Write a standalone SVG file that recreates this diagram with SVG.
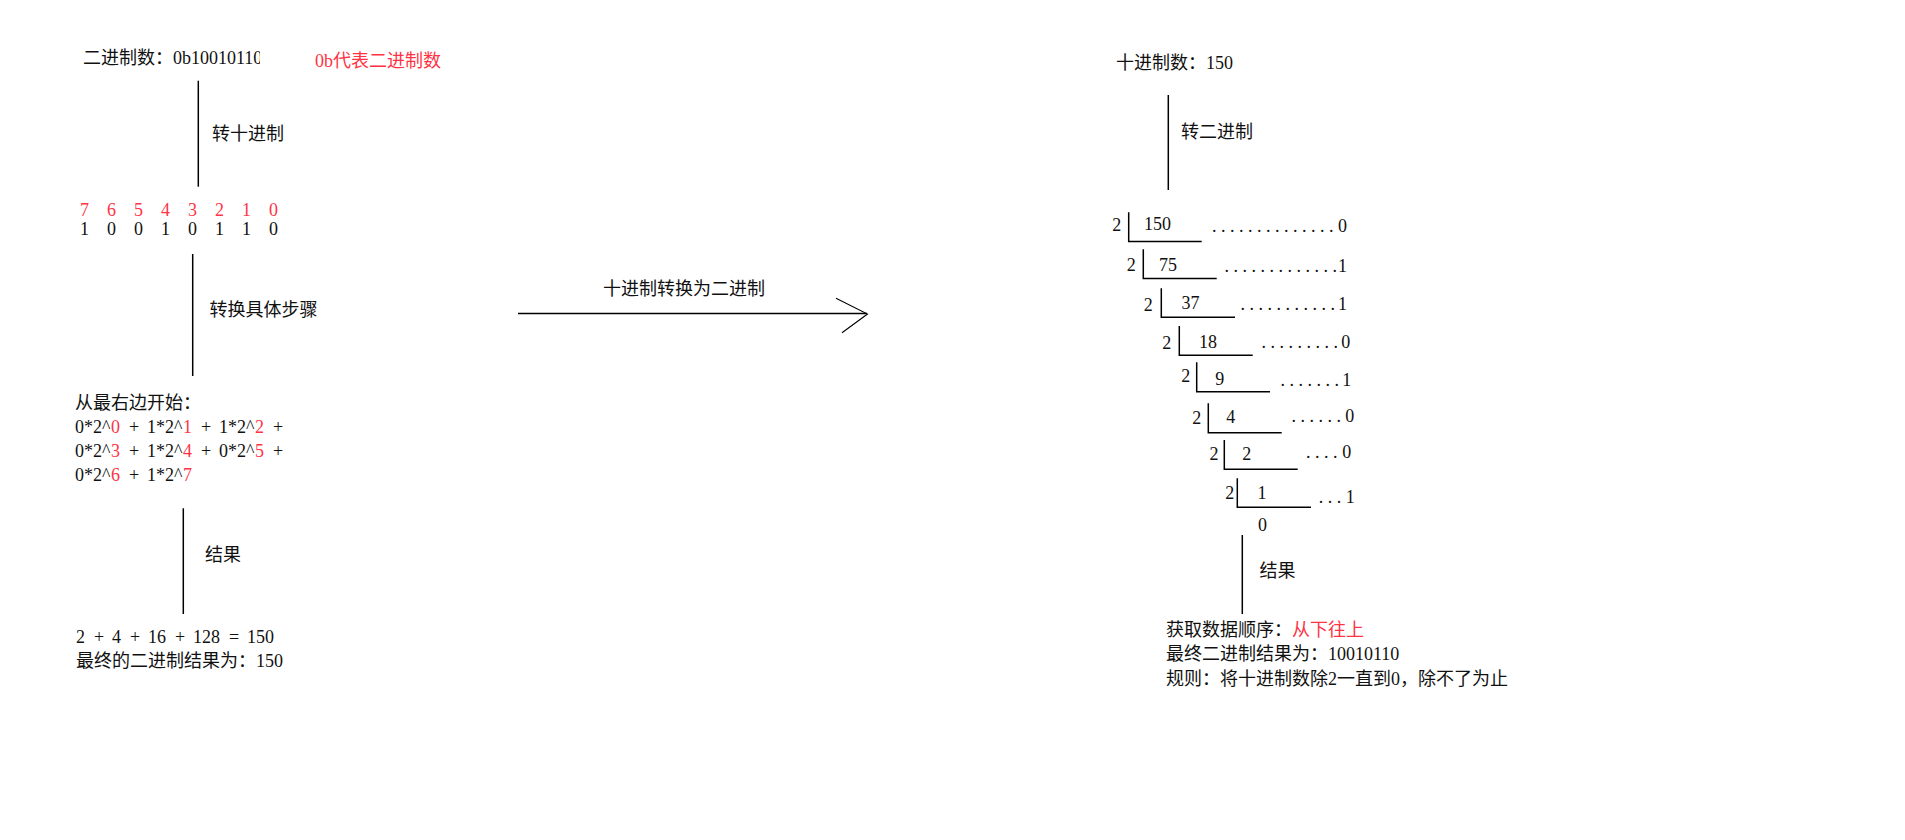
<svg xmlns="http://www.w3.org/2000/svg" width="1905" height="840" viewBox="0 0 1905 840">
<style>
.t{font-family:"Liberation Serif","Noto Sans CJK SC",serif;font-size:18px;fill:#111}
.r{fill:#ff3344}
.ln{stroke:#000;stroke-width:1.5;fill:none}
.hd{stroke:#000;stroke-width:1.1;fill:none}
.dots{letter-spacing:4.5px}
.pre{white-space:pre}
</style>
<defs>
<clipPath id="clipBin"><rect x="0" y="0" width="260" height="100"/></clipPath>
</defs>
<rect width="1905" height="840" fill="#fff"/>

<g id="connectors">
<line class="ln" x1="198.3" y1="80.7" x2="198.3" y2="186.7"/>
<line class="ln" x1="192.7" y1="254" x2="192.7" y2="376"/>
<line class="ln" x1="183.3" y1="508.3" x2="183.3" y2="614"/>
<line class="ln" x1="518" y1="313.5" x2="867" y2="313.5"/>
<polyline class="hd" points="836,298.3 867.5,314 842,332.7"/>
<line class="ln" x1="1168.3" y1="95" x2="1168.3" y2="190"/>
<line class="ln" x1="1242.3" y1="535" x2="1242.3" y2="614"/>
</g>

<g id="label-to-dec"><text class="t" x="212" y="140">转十进制</text></g>
<g id="label-steps"><text class="t" x="209.5" y="315.5">转换具体步骤</text></g>
<g id="label-result-left"><text class="t" x="205" y="560.5">结果</text></g>
<g id="label-arrow"><text class="t" x="603" y="295">十进制转换为二进制</text></g>
<g id="label-to-bin"><text class="t" x="1181" y="138">转二进制</text></g>
<g id="label-result-right"><text class="t" x="1259.5" y="577">结果</text></g>

<g id="node-binary">
<text class="t" x="83" y="64" clip-path="url(#clipBin)">二进制数：0b10010110</text>
<text class="t r" x="315" y="66.5">0b代表二进制数</text>
</g>

<g id="node-bits">
<text class="t r" x="80 93.5 107 120.5 134 147.5 161 174.5 188 201.5 215 228.5 242 255.5 269" y="216">7 6 5 4 3 2 1 0</text>
<text class="t" x="80 93.5 107 120.5 134 147.5 161 174.5 188 201.5 215 228.5 242 255.5 269" y="235">1 0 0 1 0 1 1 0</text>
</g>

<g id="node-formula">
<text class="t" x="75" y="409">从最右边开始：</text>
<text class="t pre" xml:space="preserve" x="75 84 93 102 111 120 129 138 147 156 165 174 183 192 201 210 219 228 237 246 255 264 273" y="433">0*2^<tspan class="r">0</tspan> + 1*2^<tspan class="r">1</tspan> + 1*2^<tspan class="r">2</tspan> +</text>
<text class="t pre" xml:space="preserve" x="75 84 93 102 111 120 129 138 147 156 165 174 183 192 201 210 219 228 237 246 255 264 273" y="457">0*2^<tspan class="r">3</tspan> + 1*2^<tspan class="r">4</tspan> + 0*2^<tspan class="r">5</tspan> +</text>
<text class="t pre" xml:space="preserve" x="75 84 93 102 111 120 129 138 147 156 165 174 183" y="481">0*2^<tspan class="r">6</tspan> + 1*2^<tspan class="r">7</tspan></text>
</g>

<g id="node-sum">
<text class="t pre" xml:space="preserve" x="76 85 94 103 112 121 130 139 148 157 166 175 184 193 202 211 220 229 238 247 256 265" y="643">2 + 4 + 16 + 128 = 150</text>
<text class="t" x="76" y="667">最终的二进制结果为：150</text>
</g>

<g id="node-decimal">
<text class="t" x="1116" y="69">十进制数：150</text>
</g>

<g id="node-division">
<g id="div-150">
<text class="t" x="1112.2" y="230.5">2</text>
<text class="t" x="1144" y="230">150</text>
<polyline class="ln" points="1128.7,212.3 1128.7,241.5 1201.7,241.5"/>
<text class="t dots" x="1212" y="231.5">..............</text>
<text class="t" x="1338" y="231.5">0</text>
</g>
<g id="div-75">
<text class="t" x="1126.8" y="271">2</text>
<text class="t" x="1159" y="270.7">75</text>
<polyline class="ln" points="1143.3,249.3 1143.3,278.5 1216.7,278.5"/>
<text class="t dots" x="1224.4" y="271.7">.............</text>
<text class="t" x="1338" y="271.7">1</text>
</g>
<g id="div-37">
<text class="t" x="1143.8" y="311">2</text>
<text class="t" x="1181.4" y="309">37</text>
<polyline class="ln" points="1161.3,288.3 1161.3,317.3 1235,317.3"/>
<text class="t dots" x="1240.4" y="310">...........</text>
<text class="t" x="1338" y="310">1</text>
</g>
<g id="div-18">
<text class="t" x="1162.2" y="349">2</text>
<text class="t" x="1199" y="347.7">18</text>
<polyline class="ln" points="1179.3,326 1179.3,355.3 1252.7,355.3"/>
<text class="t dots" x="1261.4" y="348.3">.........</text>
<text class="t" x="1341.3" y="348.3">0</text>
</g>
<g id="div-9">
<text class="t" x="1181.2" y="381.7">2</text>
<text class="t" x="1215.3" y="385">9</text>
<polyline class="ln" points="1196.7,362.3 1196.7,391.7 1270,391.7"/>
<text class="t dots" x="1280.4" y="385.7">.......</text>
<text class="t" x="1342.3" y="385.7">1</text>
</g>
<g id="div-4">
<text class="t" x="1192.2" y="424">2</text>
<text class="t" x="1226.3" y="423">4</text>
<polyline class="ln" points="1208.3,403.3 1208.3,432.7 1281.7,432.7"/>
<text class="t dots" x="1291.4" y="421.7">......</text>
<text class="t" x="1345.3" y="421.7">0</text>
</g>
<g id="div-2">
<text class="t" x="1209.5" y="460">2</text>
<text class="t" x="1242.3" y="459.5">2</text>
<polyline class="ln" points="1224.3,440 1224.3,469.3 1297.7,469.3"/>
<text class="t dots" x="1306" y="458.3">....</text>
<text class="t" x="1342.3" y="458.3">0</text>
</g>
<g id="div-1">
<text class="t" x="1225.2" y="499.3">2</text>
<text class="t" x="1257.5" y="499.3">1</text>
<polyline class="ln" points="1237.3,478.3 1237.3,507.3 1311,507.3"/>
<text class="t dots" x="1318.7" y="502.7">...</text>
<text class="t" x="1345.7" y="502.7">1</text>
</g>
<g id="div-0">
<text class="t" x="1258" y="530.7">0</text>
</g>
</g>

<g id="node-conclusion">
<text class="t" x="1166" y="636">获取数据顺序：<tspan class="r">从下往上</tspan></text>
<text class="t" x="1166" y="660">最终二进制结果为：10010110</text>
<text class="t" x="1166" y="685">规则：将十进制数除2一直到0，除不了为止</text>
</g>
</svg>
